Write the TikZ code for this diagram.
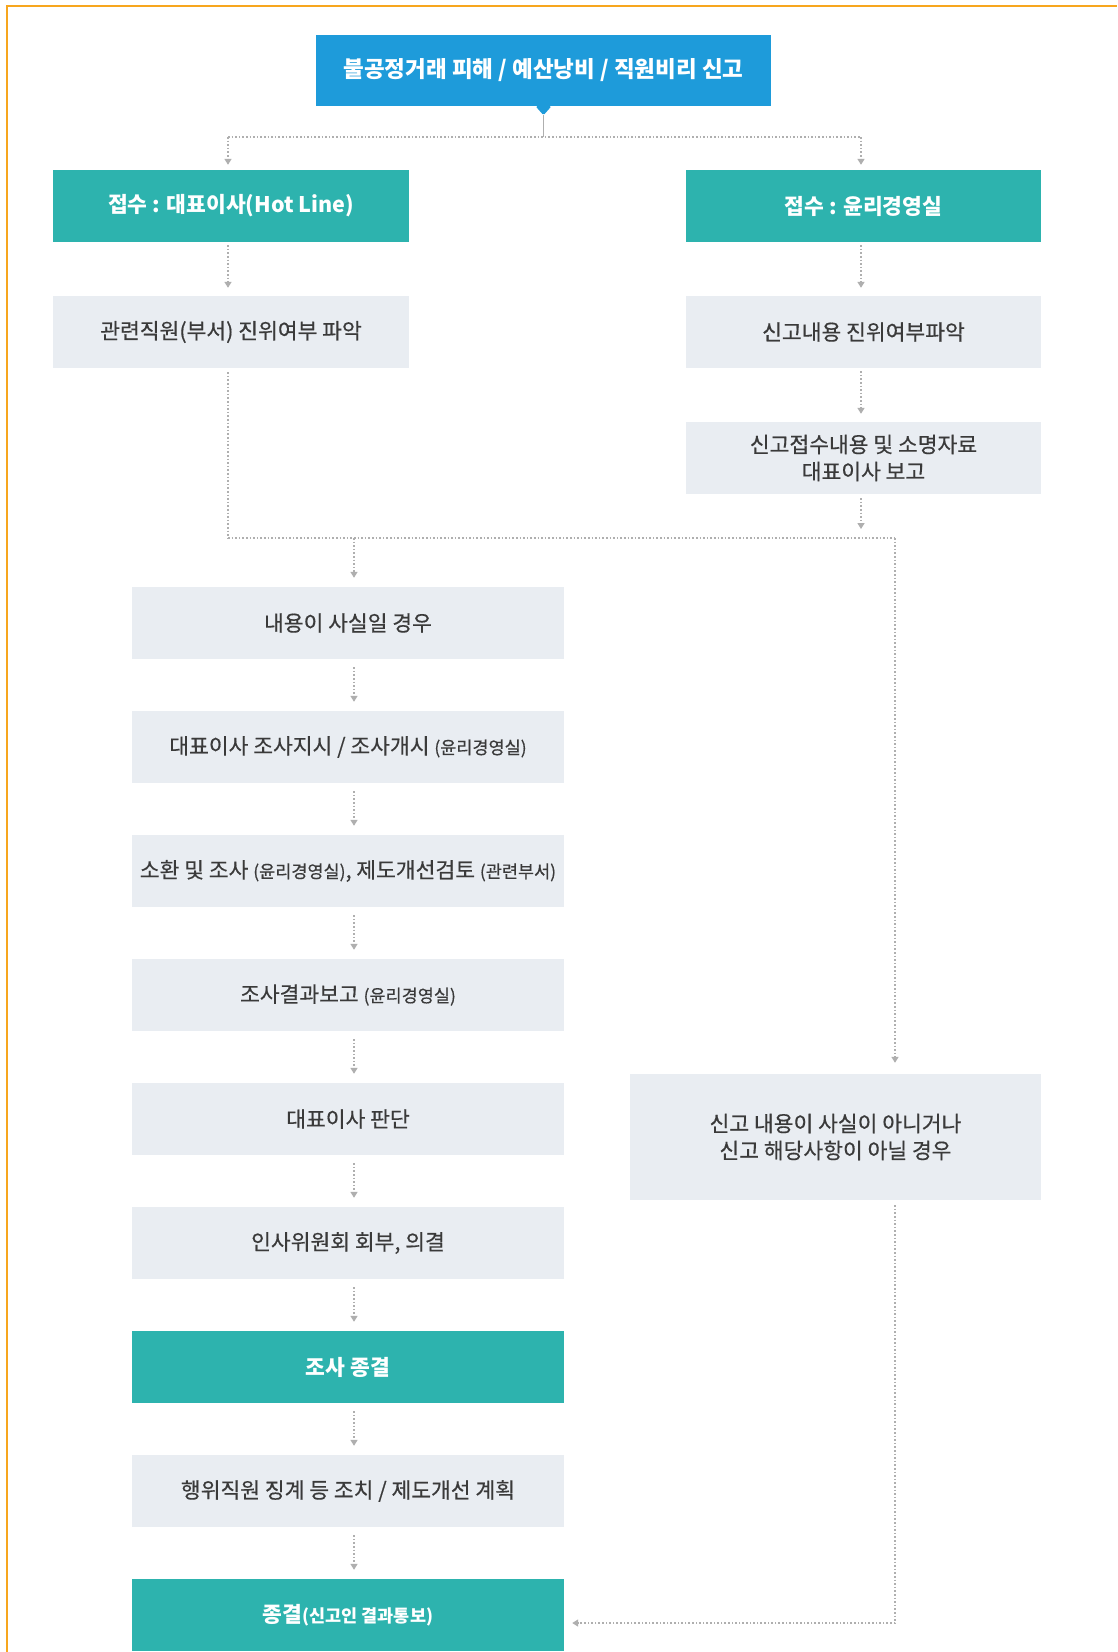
\documentclass[tikz,border=0pt]{standalone}
\usepackage{fontspec}
\setmainfont{Noto Sans CJK KR}
\newfontfamily\medfont{Noto Sans CJK KR}[FakeBold=0.5]
\usetikzlibrary{arrows.meta}
\definecolor{tealbox}{RGB}{45,179,174}
\definecolor{bluebox}{RGB}{30,155,218}
\definecolor{graybox}{RGB}{233,237,242}
\definecolor{graytext}{RGB}{58,58,58}
\definecolor{lineg}{RGB}{175,175,175}
\definecolor{orng}{RGB}{247,166,30}
\newcommand\smtxt[1]{{\fontsize{17.5}{22}\selectfont #1}}
\begin{document}
\begin{tikzpicture}[x=1pt,y=-1pt,
  gbx/.style={rectangle, fill=graybox, text=graytext, inner sep=0pt, minimum height=72pt, align=center, font=\medfont\fontsize{21.5}{27}\selectfont},
  tbx/.style={rectangle, fill=tealbox, text=white, inner sep=0pt, minimum height=72pt, align=center, font=\bfseries\fontsize{21.5}{27}\selectfont},
  bbx/.style={rectangle, fill=bluebox, text=white, inner sep=0pt, minimum height=71pt, align=center, font=\bfseries\fontsize{22.5}{27}\selectfont},
  conn/.style={draw=lineg, line width=1.4pt, dash pattern=on 1.6pt off 2pt},
  arr/.style={conn, -{Triangle[width=7pt,length=6pt]}},
  vgap/.style={shorten <=8pt, shorten >=9pt}
]
\useasboundingbox (0,0) rectangle (1117,1652);
\fill[white] (0,0) rectangle (1117,1652);
\draw[orng, line width=2pt] (7,1652) -- (7,6) -- (1117,6);

% nodes
\node[bbx, minimum width=455pt] (top) at (543.5,70.5) {불공정거래 피해 / 예산낭비 / 직원비리 신고};
\node[tbx, minimum width=356pt] (hl) at (231,206) {접수 : 대표이사(Hot Line)};
\node[tbx, minimum width=355pt] (em) at (863.5,206) {접수 : 윤리경영실};
\node[gbx, minimum width=356pt] (l2) at (231,332) {관련직원(부서) 진위여부 파악};
\node[gbx, minimum width=355pt] (r2) at (863.5,332) {신고내용 진위여부파악};
\node[gbx, minimum width=355pt] (r3) at (863.5,458) {신고접수내용 및 소명자료\\대표이사 보고};

\node[gbx, minimum width=432pt] (m1) at (348,623) {내용이 사실일 경우};
\node[gbx, minimum width=432pt] (m2) at (348,747) {대표이사 조사지시 / 조사개시 \smtxt{(윤리경영실)}};
\node[gbx, minimum width=432pt] (m3) at (348,871) {소환 및 조사 \smtxt{(윤리경영실)}, 제도개선검토 \smtxt{(관련부서)}};
\node[gbx, minimum width=432pt] (m4) at (348,995) {조사결과보고 \smtxt{(윤리경영실)}};
\node[gbx, minimum width=432pt] (m5) at (348,1119) {대표이사 판단};
\node[gbx, minimum width=432pt] (m6) at (348,1243) {인사위원회 회부, 의결};
\node[tbx, minimum width=432pt] (m7) at (348,1367) {조사 종결};
\node[gbx, minimum width=432pt] (m8) at (348,1491) {행위직원 징계 등 조치 / 제도개선 계획};
\node[tbx, minimum width=432pt] (m9) at (348,1615) {종결\smtxt{(신고인 결과통보)}};

\node[gbx, minimum width=411pt, minimum height=126pt] (nf) at (835.5,1137) {신고 내용이 사실이 아니거나\\신고 해당사항이 아닐 경우};

% pointer under top box
\fill[bluebox, rounded corners=1.5pt] ([xshift=-8pt]top.south) -- ([xshift=8pt]top.south) -- ([yshift=-9pt]top.south) -- cycle;

% helper coordinates
\coordinate (lx) at (228,0);
\coordinate (rx) at (861,0);
\coordinate (mx) at (354,0);
\coordinate (fx) at (895,0);
\coordinate (jc) at (543.5,137);
\coordinate (jl) at (228,137);
\coordinate (jr) at (861,137);
\coordinate (jl2) at (228,538);
\coordinate (jr2) at (861,538);
\coordinate (jm) at (354,538);
\coordinate (jf) at (895,538);
\coordinate (jb) at (895,1623);

% connectors
\draw[lineg, line width=1pt] ([yshift=-9pt]top.south) -- (jc);
\draw[conn] (jl) -- (jr);
\draw[arr, shorten >=5pt] (jl) -- (hl.north -| lx);
\draw[arr, shorten >=5pt] (jr) -- (em.north -| rx);
\draw[arr, shorten <=3pt, shorten >=8pt] (hl.south -| lx) -- (l2.north -| lx);
\draw[arr, shorten <=3pt, shorten >=8pt] (em.south -| rx) -- (r2.north -| rx);
\draw[arr, shorten <=3pt, shorten >=8pt] (r2.south -| rx) -- (r3.north -| rx);
\draw[conn, shorten <=4pt] (l2.south -| lx) -- (jl2);
\draw[arr, shorten <=4pt, shorten >=9pt] (r3.south -| rx) -- (jr2);
\draw[conn] (jl2) -- (jf);
\draw[arr, shorten >=9pt] (jm) -- (m1.north -| mx);
\draw[arr, shorten >=11pt] (jf) -- (nf.north -| fx);

\draw[arr, vgap] (m1.south -| mx) -- (m2.north -| mx);
\draw[arr, vgap] (m2.south -| mx) -- (m3.north -| mx);
\draw[arr, vgap] (m3.south -| mx) -- (m4.north -| mx);
\draw[arr, vgap] (m4.south -| mx) -- (m5.north -| mx);
\draw[arr, vgap] (m5.south -| mx) -- (m6.north -| mx);
\draw[arr, vgap] (m6.south -| mx) -- (m7.north -| mx);
\draw[arr, vgap] (m7.south -| mx) -- (m8.north -| mx);
\draw[arr, vgap] (m8.south -| mx) -- (m9.north -| mx);

\draw[arr, shorten <=5pt, shorten >=8pt] (nf.south -| fx) -- (jb) -- (m9.east |- jb);
\end{tikzpicture}
\end{document}
